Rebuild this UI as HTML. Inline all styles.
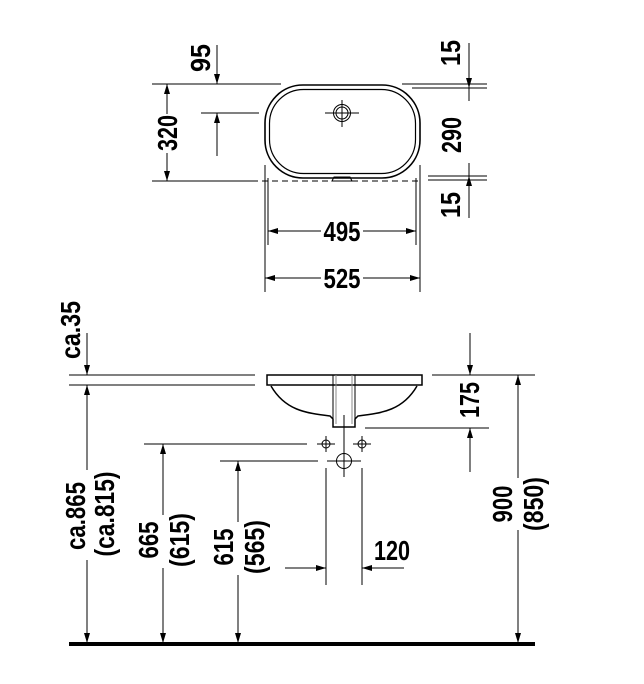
<!DOCTYPE html>
<html><head><style>body{margin:0;background:#fff}svg{display:block}
text{font-family:"Liberation Sans",sans-serif;font-weight:bold;font-size:28px;fill:#000}</style></head>
<body>
<svg width="644" height="684" viewBox="0 0 644 684" xmlns="http://www.w3.org/2000/svg">
<defs>
<marker id="a" viewBox="0 0 10 10" refX="10" refY="5" markerWidth="10" markerHeight="10" markerUnits="userSpaceOnUse" orient="auto"><path d="M0,2 L10,5 L0,8 z" fill="#000"/></marker>
</defs>
<g stroke="#000" stroke-width="1" fill="none">
<rect x="265" y="85" width="155" height="93" rx="38" ry="38" stroke-width="1.6"/>
<rect x="269.5" y="89.5" width="146" height="84" rx="34" ry="34" stroke-width="1.2"/>
<circle cx="342" cy="113" r="8.5"/><circle cx="342" cy="113" r="6"/>
<line x1="325" y1="113" x2="359" y2="113"/><line x1="342" y1="100" x2="342" y2="127"/>
<path d="M332,181 L334,177 L350,177 L352,181 Z"/>
<line x1="152" y1="84" x2="281" y2="84"/>
<line x1="217" y1="45" x2="217" y2="84" marker-end="url(#a)"/>
<line x1="201" y1="113" x2="259" y2="113"/>
<line x1="217" y1="156" x2="217" y2="113" marker-end="url(#a)"/>
<line x1="152" y1="181" x2="258" y2="181"/>
<line x1="262" y1="181" x2="420" y2="181" stroke-dasharray="6,4"/>
<line x1="167" y1="114" x2="167" y2="84" marker-end="url(#a)"/>
<line x1="167" y1="153" x2="167" y2="181" marker-end="url(#a)"/>
<line x1="265" y1="165" x2="265" y2="292"/><line x1="420" y1="165" x2="420" y2="292"/>
<line x1="268" y1="178" x2="268" y2="245"/><line x1="416" y1="178" x2="416" y2="245"/>
<line x1="321" y1="231" x2="268" y2="231" marker-end="url(#a)"/>
<line x1="363" y1="231" x2="416" y2="231" marker-end="url(#a)"/>
<line x1="321" y1="278" x2="265" y2="278" marker-end="url(#a)"/>
<line x1="363" y1="278" x2="420" y2="278" marker-end="url(#a)"/>
<line x1="402" y1="84" x2="487" y2="84"/><line x1="412" y1="88" x2="487" y2="88"/>
<line x1="428" y1="176" x2="487" y2="176"/><line x1="428" y1="180" x2="487" y2="180"/>
<line x1="469" y1="43" x2="469" y2="88" marker-end="url(#a)"/>
<line x1="469" y1="88" x2="469" y2="101"/>
<line x1="469" y1="163" x2="469" y2="176"/>
<line x1="469" y1="218" x2="469" y2="176" marker-end="url(#a)"/>
<line x1="69" y1="375" x2="255" y2="375"/><line x1="69" y1="385" x2="255" y2="385"/>
<rect x="267" y="375" width="155" height="10" stroke-width="1.5"/>
<path d="M271,386 C285,410 305,413 330,416 L333,419 L333,427 L355,427 L355,419 L358,416 C383,413 403,410 417,386" stroke-width="1.5"/>
<line x1="333" y1="375" x2="333" y2="427"/><line x1="355" y1="375" x2="355" y2="427"/>
<line x1="336" y1="375" x2="336" y2="424" stroke="#888"/><line x1="352" y1="375" x2="352" y2="424" stroke="#888"/>
<line x1="344" y1="415" x2="344" y2="477"/>
<line x1="432" y1="375" x2="535" y2="375"/>
<line x1="365" y1="428" x2="489" y2="428"/>
<line x1="470" y1="333" x2="470" y2="375" marker-end="url(#a)"/>
<line x1="470" y1="472" x2="470" y2="428" marker-end="url(#a)"/>
<line x1="518" y1="478" x2="518" y2="375" marker-end="url(#a)"/>
<line x1="518" y1="530" x2="518" y2="643" marker-end="url(#a)"/>
<line x1="87" y1="333" x2="87" y2="375" marker-end="url(#a)"/>
<line x1="87" y1="470" x2="87" y2="385" marker-end="url(#a)"/>
<line x1="87" y1="560" x2="87" y2="643" marker-end="url(#a)"/>
<line x1="144" y1="444" x2="307" y2="444"/>
<line x1="163" y1="515" x2="163" y2="444" marker-end="url(#a)"/>
<line x1="163" y1="568" x2="163" y2="643" marker-end="url(#a)"/>
<line x1="220" y1="461" x2="318" y2="461"/>
<line x1="238" y1="522" x2="238" y2="461" marker-end="url(#a)"/>
<line x1="238" y1="575" x2="238" y2="643" marker-end="url(#a)"/>
<circle cx="326" cy="444" r="4"/><circle cx="362" cy="444" r="4"/>
<line x1="317" y1="444" x2="335" y2="444"/><line x1="326" y1="436" x2="326" y2="452"/>
<line x1="353" y1="444" x2="371" y2="444"/><line x1="362" y1="436" x2="362" y2="452"/>
<circle cx="344" cy="461" r="7.5"/><line x1="327" y1="461" x2="361" y2="461"/>
<line x1="326" y1="468" x2="326" y2="585"/><line x1="362" y1="468" x2="362" y2="585"/>
<line x1="285" y1="568" x2="326" y2="568" marker-end="url(#a)"/>
<line x1="404" y1="568" x2="362" y2="568" marker-end="url(#a)"/>
<line x1="69" y1="644" x2="535" y2="644" stroke-width="4"/>
</g>
<g>
<text transform="translate(210,58) rotate(-90)" text-anchor="middle" textLength="28" lengthAdjust="spacingAndGlyphs">95</text>
<text transform="translate(177,133) rotate(-90)" text-anchor="middle" textLength="36" lengthAdjust="spacingAndGlyphs">320</text>
<text transform="translate(460,53) rotate(-90)" text-anchor="middle" textLength="26" lengthAdjust="spacingAndGlyphs">15</text>
<text transform="translate(461,135) rotate(-90)" text-anchor="middle" textLength="36" lengthAdjust="spacingAndGlyphs">290</text>
<text transform="translate(460,205) rotate(-90)" text-anchor="middle" textLength="26" lengthAdjust="spacingAndGlyphs">15</text>
<text x="342" y="241" text-anchor="middle" textLength="37" lengthAdjust="spacingAndGlyphs">495</text>
<text x="342" y="288" text-anchor="middle" textLength="37" lengthAdjust="spacingAndGlyphs">525</text>
<text transform="translate(80,330) rotate(-90)" text-anchor="middle" textLength="58" lengthAdjust="spacingAndGlyphs">ca.35</text>
<text transform="translate(479,400) rotate(-90)" text-anchor="middle" textLength="36" lengthAdjust="spacingAndGlyphs">175</text>
<text transform="translate(85,516) rotate(-90)" text-anchor="middle" textLength="68" lengthAdjust="spacingAndGlyphs">ca.865</text>
<text transform="translate(114,514) rotate(-90)" text-anchor="middle" textLength="85" lengthAdjust="spacingAndGlyphs">(ca.815)</text>
<text transform="translate(158,540) rotate(-90)" text-anchor="middle" textLength="37" lengthAdjust="spacingAndGlyphs">665</text>
<text transform="translate(189,540) rotate(-90)" text-anchor="middle" textLength="54" lengthAdjust="spacingAndGlyphs">(615)</text>
<text transform="translate(233,547) rotate(-90)" text-anchor="middle" textLength="37" lengthAdjust="spacingAndGlyphs">615</text>
<text transform="translate(264,547) rotate(-90)" text-anchor="middle" textLength="54" lengthAdjust="spacingAndGlyphs">(565)</text>
<text transform="translate(512,504) rotate(-90)" text-anchor="middle" textLength="37" lengthAdjust="spacingAndGlyphs">900</text>
<text transform="translate(543,504) rotate(-90)" text-anchor="middle" textLength="54" lengthAdjust="spacingAndGlyphs">(850)</text>
<text x="392" y="560" text-anchor="middle" textLength="36" lengthAdjust="spacingAndGlyphs">120</text>
</g>
</svg>
</body></html>
